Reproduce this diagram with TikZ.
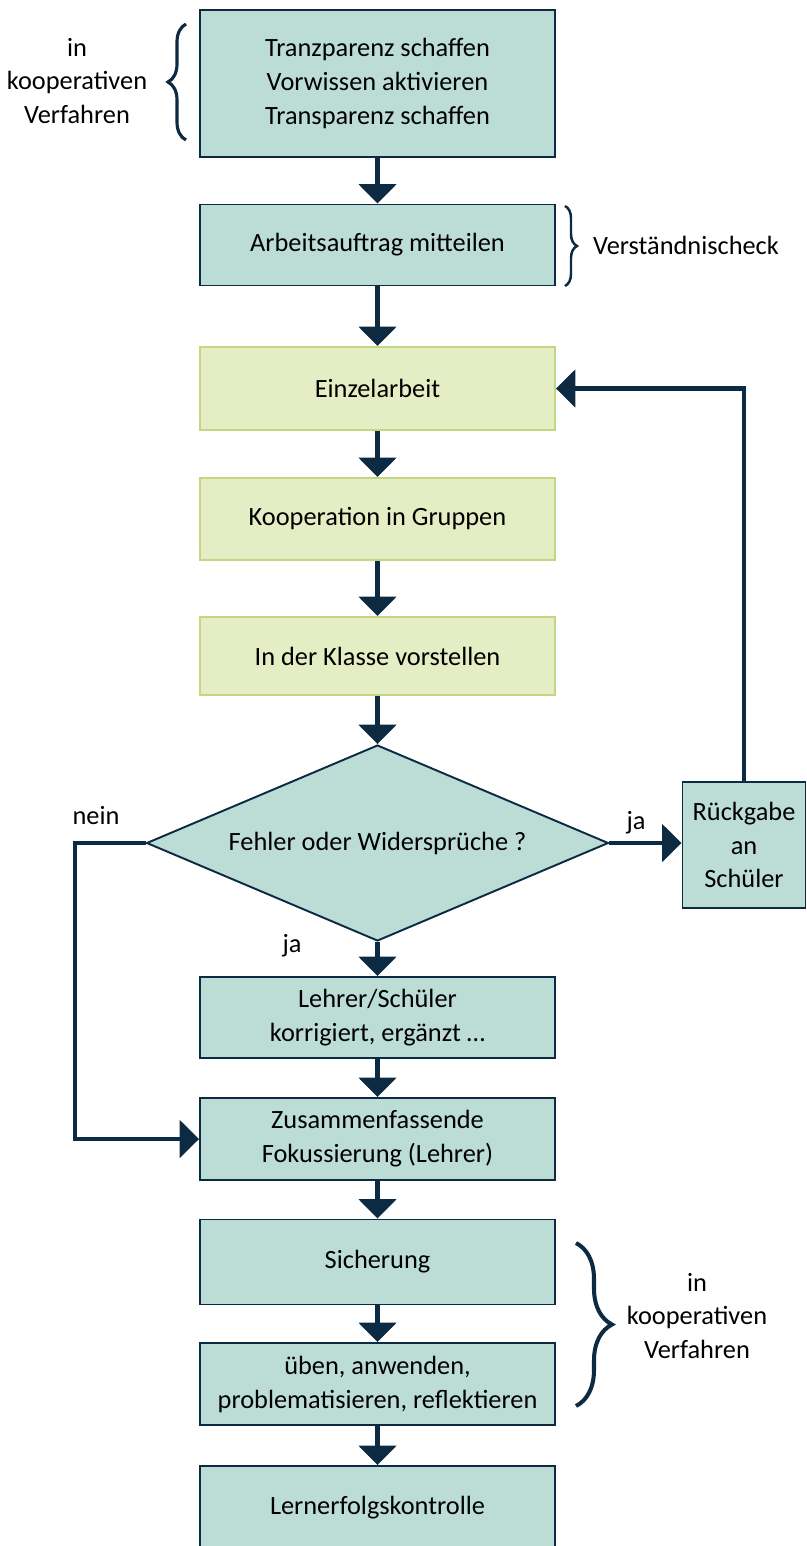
\documentclass[tikz,border=0pt]{standalone}
\usepackage{fontspec}
\setmainfont{Carlito}
\usetikzlibrary{arrows.meta,shapes.geometric,decorations.pathreplacing}

\definecolor{boxteal}{RGB}{188,221,214}
\definecolor{boxgreen}{RGB}{229,237,196}
\definecolor{edgegreen}{RGB}{196,214,130}
\definecolor{navy}{RGB}{12,42,66}

\begin{document}
\begin{tikzpicture}[
  x=0.02cm,y=-0.02cm,
  >={Triangle[width=21pt,length=11pt]},
  every node/.style={font=\fontsize{15}{19.3}\selectfont,align=center},
  box/.style={draw=navy,fill=boxteal,line width=1.1pt,
    minimum width=7.1cm,minimum height=1.62cm,inner sep=0pt},
  greenbox/.style={box,draw=edgegreen,fill=boxgreen},
  decision/.style={diamond,draw=navy,fill=boxteal,line width=1.1pt,
    aspect=2.36,minimum width=9.24cm,minimum height=3.92cm,inner sep=0pt},
  flow/.style={->,draw=navy,line width=2.6pt},
  curly/.style={draw=navy,line width=1.8pt,decorate},
  note/.style={inner sep=1pt}]
  \useasboundingbox (0,0) rectangle (806,1546);

  \node[box,minimum height=2.94cm] (vorwissen) at (377.5,83.5)
    {Tranzparenz schaffen\\Vorwissen aktivieren\\Transparenz schaffen};
  \node[box] (auftrag) at (377.5,245) {Arbeitsauftrag mitteilen};
  \node[greenbox,minimum height=1.66cm] (einzel) at (377.5,388.5) {Einzelarbeit};
  \node[greenbox,minimum height=1.64cm] (gruppen) at (377.5,519) {Kooperation in Gruppen};
  \node[greenbox,minimum height=1.56cm] (klasse) at (377.5,656) {In der Klasse vorstellen};
  \node[decision] (fehler) at (377.5,843) {Fehler oder Widersprüche ?};
  \node[box,minimum width=2.46cm,minimum height=2.52cm] (rueck) at (744,845)
    {Rückgabe\\an\\Schüler};
  \node[box] (korrektur) at (377.5,1017.5) {Lehrer/Schüler\\korrigiert, ergänzt \dots};
  \node[box,minimum height=1.64cm] (fokus) at (377.5,1139)
    {Zusammenfassende\\Fokussierung (Lehrer)};
  \node[box,minimum height=1.7cm] (sicherung) at (377.5,1262) {Sicherung};
  \node[box,minimum height=1.64cm] (ueben) at (377.5,1384)
    {üben, anwenden,\\problematisieren, reflektieren};
  \node[box,minimum height=1.68cm] (kontrolle) at (377.5,1508) {Lernerfolgskontrolle};

  % side notes and braces
  \node[note] (koop1) at (77,81) {in\\kooperativen\\Verfahren};
  \draw[curly,decoration={brace,amplitude=0.36cm}] (186,140) -- (186,24);
  \node[note] (check) at (686,245) {Verständnischeck};
  \draw[curly,line width=1.4pt,decoration={brace,amplitude=0.24cm}] (565,206) -- (565,286);
  \node[note] (koop2) at (697,1316) {in\\kooperativen\\Verfahren};
  \draw[curly,line width=2.3pt,decoration={brace,amplitude=0.72cm}] (576,1243) -- (576,1406);

  \coordinate (neinturn) at (75,843);

  \draw[flow] (vorwissen) -- (auftrag);
  \draw[flow] (auftrag) -- (einzel);
  \draw[flow] (einzel) -- (gruppen);
  \draw[flow] (gruppen) -- (klasse);
  \draw[flow] (klasse) -- (fehler);
  \draw[flow] (fehler) -- (korrektur);
  \draw[flow] (korrektur) -- (fokus);
  \draw[flow] (fokus) -- (sicherung);
  \draw[flow] (sicherung) -- (ueben);
  \draw[flow] (ueben) -- (kontrolle);
  \draw[flow] (fehler.east) -- (fehler.east -| rueck.west);
  \draw[flow] (rueck.north) |- (einzel.east);
  \draw[flow] (fehler.west) -- (neinturn) |- (fokus.west);

  \node[note] (jarechts) at (636,823) {ja};
  \node[note] (neinlinks) at (96,816) {nein};
  \node[note] (jaunten) at (292,946) {ja};
\end{tikzpicture}
\end{document}
